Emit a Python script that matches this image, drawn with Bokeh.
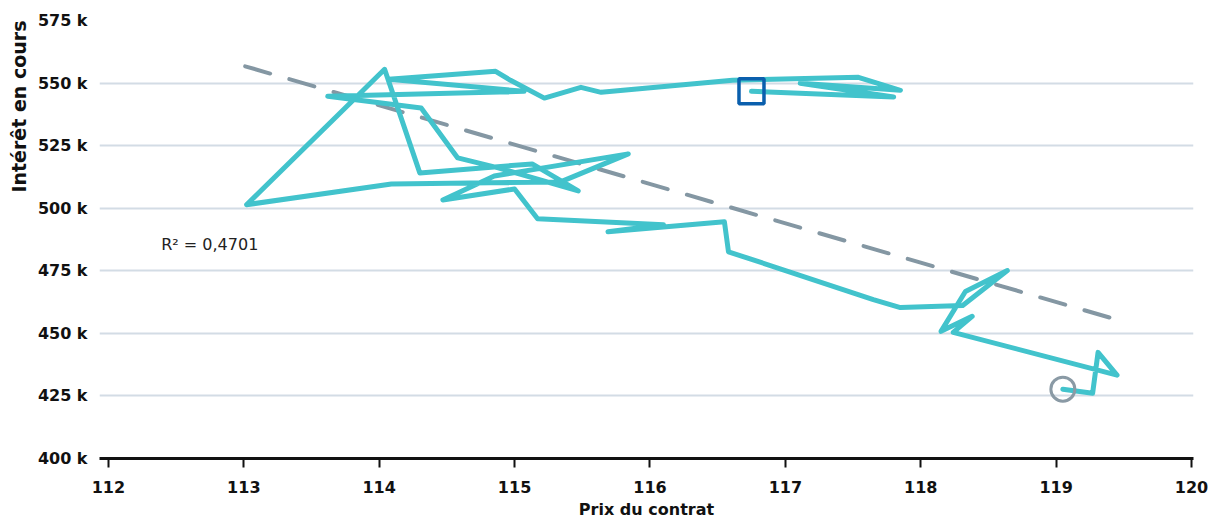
from bokeh.plotting import figure
from bokeh.models import Range1d, FixedTicker, PrintfTickFormatter, Label, Title
from bokeh.embed import file_html
from bokeh.resources import INLINE

# Contract price vs open interest (thousands), weekly path
price = [119.05, 119.27, 119.31, 119.45, 118.24, 118.38, 118.15, 118.33, 118.64, 118.31,
         117.85, 117.65, 116.58, 116.55, 115.69, 116.10, 115.17, 115.00, 114.47, 114.85,
         115.84, 115.34, 114.09, 113.02, 114.04, 114.30, 115.13, 115.47, 114.88, 114.58,
         114.31, 113.62, 115.07, 114.07, 114.86, 114.97, 115.22, 115.49, 115.64, 116.61,
         117.54, 117.85, 117.11, 117.80, 116.75]
open_interest = [427.7, 426.1, 442.4, 433.3, 450.4, 456.8, 450.8, 466.7, 475.1, 461.1,
                 460.3, 463.5, 482.6, 494.6, 490.6, 493.4, 495.8, 507.7, 503.3, 512.9,
                 521.7, 510.5, 509.7, 501.4, 555.5, 514.1, 517.7, 506.9, 516.1, 520.1,
                 540.0, 544.7, 546.7, 551.5, 554.7, 551.1, 544.0, 548.3, 546.3, 551.1,
                 552.3, 547.1, 549.9, 544.4, 546.7]

trend_price = [113.01, 119.44]
trend_oi = [556.7, 455.6]
r2_text = "R\u00b2 = 0,4701"
r2_pos = (112.39, 485.4)

x_ticks = [112, 113, 114, 115, 116, 117, 118, 119, 120]
y_ticks = [400, 425, 450, 475, 500, 525, 550, 575]
x_title = "Prix du contrat"
y_title = "Intérêt en cours"

FONT = "DejaVu Sans"
INK = "#111111"

X0, X1 = 111.934, 120.015
p = figure(width=1209, height=521, output_backend="svg", toolbar_location=None,
           x_range=Range1d(X0, X1), y_range=Range1d(400, 575),
           min_border_left=98, min_border_right=16, min_border_top=20, min_border_bottom=63)
p.title.visible = False
p.outline_line_color = None
p.background_fill_color = "white"
p.border_fill_color = "white"

p.xgrid.visible = False
p.ygrid.grid_line_color = "#d3dce5"
p.ygrid.grid_line_width = 2

# y axis
yax = p.yaxis[0]
yax.ticker = FixedTicker(ticks=y_ticks)
yax.formatter = PrintfTickFormatter(format="%d k")
yax.axis_line_color = None
yax.major_tick_line_color = None
yax.minor_tick_line_color = None
yax.major_tick_out = 0
yax.major_tick_in = 0
yax.major_label_standoff = 12
yax.major_label_text_font = FONT
yax.major_label_text_font_style = "bold"
yax.major_label_text_font_size = "16px"
yax.major_label_text_color = INK

# x axis
xax = p.xaxis[0]
xax.ticker = FixedTicker(ticks=x_ticks)
xax.axis_line_color = INK
xax.axis_line_width = 3
xax.major_tick_line_color = INK
xax.major_tick_line_width = 2
xax.major_tick_out = 9
xax.major_tick_in = 0
xax.minor_tick_line_color = None
xax.major_label_standoff = 13
xax.major_label_text_font = FONT
xax.major_label_text_font_style = "bold"
xax.major_label_text_font_size = "16px"
xax.major_label_text_color = INK
xax.axis_label = x_title
xax.axis_label_text_font = FONT
xax.axis_label_text_font_style = "bold"
xax.axis_label_text_font_size = "16px"
xax.axis_label_text_color = INK
xax.axis_label_standoff = 4

ytitle = Title(text=y_title, align="right", text_font=FONT,
               text_font_style="bold", text_font_size="19px", text_color=INK)
p.add_layout(ytitle, "left")

# trend line
p.line(trend_price, trend_oi, line_color="#8497a3", line_width=4,
       line_dash="26 20", line_cap="round")

# path
p.line(price, open_interest, line_color="#42c3cc", line_width=5,
       line_join="round", line_cap="round")

# start / end markers
p.scatter([price[0]], [open_interest[0]], marker="circle", size=24,
          fill_color=None, line_color="#8a9aa5", line_width=3)
p.scatter([price[-1]], [open_interest[-1]], marker="square", size=25,
          fill_color=None, line_color="#0a5fad", line_width=3.5)

p.add_layout(Label(x=r2_pos[0], y=r2_pos[1], text=r2_text, text_baseline="middle",
                   text_font=FONT, text_font_size="16px", text_color="#222222"))

open("out.html", "w").write(file_html(p, INLINE))
